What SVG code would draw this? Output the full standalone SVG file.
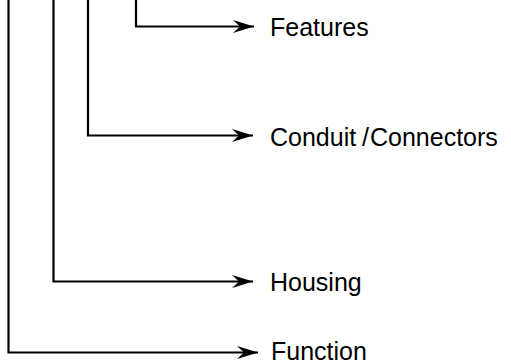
<svg xmlns="http://www.w3.org/2000/svg" width="511" height="364" viewBox="0 0 511 364">
<defs>
<marker id="ah" markerUnits="userSpaceOnUse" markerWidth="22" markerHeight="14" refX="21" refY="7" orient="auto">
<path d="M0,0.5 L21,7 L0,13.5 L7,7 Z" fill="#000"/>
</marker>
</defs>
<style>
.c{fill:none;stroke:#000;stroke-width:2.2}
.t{font-family:"Liberation Sans",Arial,sans-serif;font-size:25px;fill:#000}
</style>
<rect width="511" height="364" fill="#fff"/>
<g id="connectors">
<path class="c" d="M136,0 V26.5 H254" marker-end="url(#ah)"/>
<path class="c" d="M88,0 V135.5 H253" marker-end="url(#ah)"/>
<path class="c" d="M53.5,0 V281.5 H253" marker-end="url(#ah)"/>
<path class="c" d="M8.5,0 V352.5 H258" marker-end="url(#ah)"/>
</g>
<g id="features"><text class="t" x="270" y="36">Features</text></g>
<g id="conduit"><text class="t" x="270" y="146">Conduit<tspan x="362">/</tspan><tspan x="370">Connectors</tspan></text></g>
<g id="housing"><text class="t" x="270" y="291">Housing</text></g>
<g id="function"><text class="t" x="271" y="360">Function</text></g>
</svg>
